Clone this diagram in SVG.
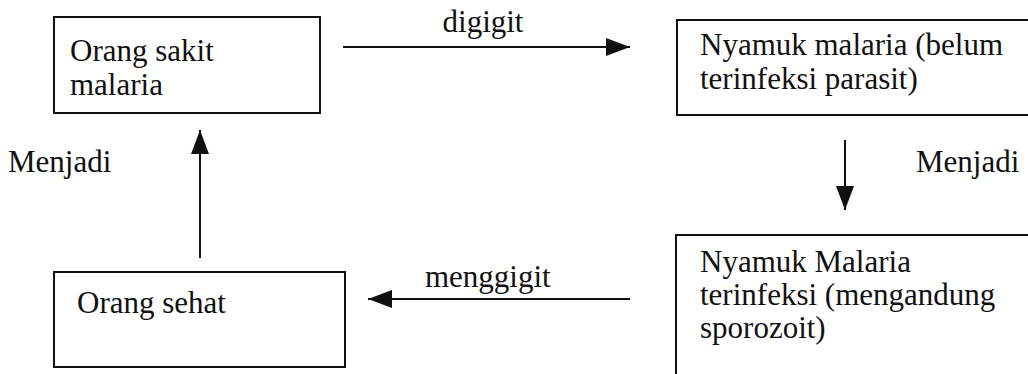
<svg xmlns="http://www.w3.org/2000/svg" width="1028" height="374" viewBox="0 0 1028 374">
<style>
.box{fill:none;stroke:#111;stroke-width:2}
.t{font-family:'Liberation Serif','Times New Roman','DejaVu Serif',serif;font-size:31px;fill:#111}
.ln{stroke:#111;stroke-width:2;fill:none}
</style>
<defs>
<marker id="ah" viewBox="0 0 24 18" refX="24" refY="9" markerWidth="24" markerHeight="18" markerUnits="userSpaceOnUse" orient="auto">
<path d="M0,0 L24,9 L0,18 Z" fill="#111"/>
</marker>
</defs>
<rect width="1028" height="374" fill="#fff"/>
<g id="n1">
<rect class="box" x="54" y="17" width="266" height="96"/>
<text class="t" x="70" y="61">Orang sakit</text>
<text class="t" x="70" y="95">malaria</text>
</g>
<g id="n2">
<rect class="box" x="677" y="20" width="360" height="95"/>
<text class="t" x="700" y="55">Nyamuk malaria (belum</text>
<text class="t" x="700" y="89">terinfeksi parasit)</text>
</g>
<g id="n3">
<rect class="box" x="54" y="272" width="291" height="95"/>
<text class="t" x="77" y="313">Orang sehat</text>
</g>
<g id="n4">
<rect class="box" x="676" y="235" width="360" height="150"/>
<text class="t" x="700" y="272">Nyamuk Malaria</text>
<text class="t" x="700" y="305">terinfeksi (mengandung</text>
<text class="t" x="700" y="338">sporozoit)</text>
</g>
<g id="connectors">
<line class="ln" x1="343" y1="47" x2="630" y2="47" marker-end="url(#ah)"/>
<text class="t" x="483" y="32" text-anchor="middle">digigit</text>
<line class="ln" x1="845" y1="140" x2="845" y2="210" marker-end="url(#ah)"/>
<text class="t" x="916" y="172">Menjadi</text>
<line class="ln" x1="630" y1="299" x2="368" y2="299" marker-end="url(#ah)"/>
<text class="t" x="425" y="287">menggigit</text>
<line class="ln" x1="200" y1="258" x2="200" y2="130" marker-end="url(#ah)"/>
<text class="t" x="8" y="172">Menjadi</text>
</g>
</svg>
